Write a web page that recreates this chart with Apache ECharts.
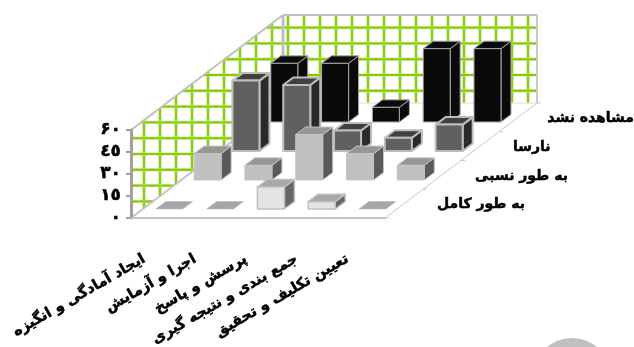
<!DOCTYPE html>
<html>
<head>
<meta charset="utf-8">
<style>html,body{margin:0;padding:0;background:#fff}#c{width:634px;height:347px}</style>
<script src="https://cdn.jsdelivr.net/npm/echarts@6/dist/echarts.min.js"></script>
</head>
<body>
<div id="c"></div>
<script>
// Categories along the front edge, rating levels along the depth of the floor
const categories = ['ایجاد آمادگی و انگیزه', 'اجرا و آزمایش', 'پرسش و پاسخ', 'جمع بندی و نتیجه گیری', 'تعیین تکلیف و تحقیق'];
const levels = ['به طور کامل', 'به طور نسبی', 'نارسا', 'مشاهده نشد'];
const tickLabels = { 0: '٠', 15: '١٥', 30: '٣٠', 45: '٤٥', 60: '۶٠' };

// Percentages per level
const complete = [0, 0, 15, 5, 0];
const relative = [18, 10, 31, 18, 10];
const inadequate = [48, 45, 14, 9, 18];
const notObserved = [40, 40, 10, 50, 50];

// Oblique projection: how far the floor runs back from the front edge
const DEPTH_X = 152, DEPTH_Y = 115;
const ROW_STEP = 29, ROW_START = 9, BAR_W = 27, BAR_DX = 10, BAR_DY = 7.5;

const rowStyles = [
  { front: '#e4e4e4', side: '#666666', top: '#a8a8a8', edge: '#c0c0c0', lw: 1.5 },
  { front: '#c0c0c0', side: '#5a5a5a', top: '#969696', edge: '#c4c4c4', lw: 1 },
  { front: '#606060', side: '#2a2a2a', top: '#404040', edge: '#bdbdbd', lw: 2 },
  { front: '#0a0a0a', side: '#0a0a0a', top: '#0a0a0a', edge: '#a8a8a8', lw: 1 }
];

function poly(points, fill, edge, lw) {
  return { type: 'polygon', shape: { points }, style: { fill, stroke: edge, lineWidth: lw, lineJoin: 'round' } };
}
function seg(x1, y1, x2, y2, stroke, lineWidth) {
  return { type: 'line', shape: { x1, y1, x2, y2 }, style: { stroke, lineWidth } };
}

// Walls, trellis fill and floor edges
function renderShell(params) {
  const g = params.coordSys;
  const x0 = g.x, x1 = g.x + g.width, base = g.y + g.height, top = g.y;
  const bx0 = x0 + DEPTH_X, bx1 = x1 + DEPTH_X, bBase = base - DEPTH_Y, bTop = top - DEPTH_Y;
  const slope = DEPTH_Y / DEPTH_X;
  const kids = [];
  const green = (a, b, c, d) => {
    kids.push(seg(a, b, c, d, '#c4e58c', 3.2));
    kids.push(seg(a, b, c, d, '#86cc00', 1.9));
  };
  for (let x = x0 + 13; x < bx1 - 4; x += 16) {
    const yTop = x < bx0 ? top - (x - x0) * slope : bTop;
    const yBot = x < bx0 ? base - (x - x0) * slope : bBase;
    green(x, yTop, x, yBot);
  }
  for (let y = bTop + 12.6; y < base - 10; y += 15.8) {
    const left = y < top ? x0 + (top - y) / slope : x0;
    const right = y < bBase ? bx1 : x0 + (base - y) / slope;
    green(left, y, right, y);
  }
  kids.push(seg(bx0, bTop, bx1, bTop, '#c0c0c0', 2));
  kids.push(seg(bx1, bTop, bx1, bBase, '#c8c8c8', 2));
  kids.push(seg(x0, top, bx0, bTop, '#c0c0c0', 2));
  kids.push(seg(bx0, bTop, bx0, bBase, '#c0c0c0', 3));
  kids.push(seg(x0, base, bx0, bBase, '#c4c4c4', 2));
  kids.push(seg(bx0, bBase, bx1, bBase, '#dcdcdc', 1));
  kids.push(seg(x1, base, bx1, bBase, '#c8c8c8', 1));
  for (let r = 0; r <= levels.length; r++) {
    const px = x1 + DEPTH_X * r / levels.length, py = base - DEPTH_Y * r / levels.length;
    kids.push(seg(px, py, px + 4, py, '#c8c8c8', 1));
  }
  return { type: 'group', children: kids };
}

// One bar: front face sits on its row, side and top are sheared back
function renderBar(row) {
  return function (params, api) {
    const cat = api.value(0), val = api.value(1);
    const foot = api.coord([cat, 0]), head = api.coord([cat, val]);
    const dy = ROW_START + ROW_STEP * row;
    const cx = foot[0] + dy * DEPTH_X / DEPTH_Y + 1;
    const l = cx - BAR_W / 2, r = cx + BAR_W / 2;
    const b = foot[1] - dy, t = head[1] - dy;
    const s = rowStyles[row];
    if (val === 0) {
      return poly([[l, b], [r, b], [r + BAR_DX, b - BAR_DY], [l + BAR_DX, b - BAR_DY]], '#a6a6a6', '#b8b8b8', 0.5);
    }
    return {
      type: 'group',
      children: [
        poly([[r, b], [r + BAR_DX, b - BAR_DY], [r + BAR_DX, t - BAR_DY], [r, t]], s.side, s.edge, s.lw),
        poly([[l, t], [r, t], [r + BAR_DX, t - BAR_DY], [l + BAR_DX, t - BAR_DY]], s.top, s.edge, s.lw),
        poly([[l, b], [r, b], [r, t], [l, t]], s.front, s.edge, s.lw)
      ]
    };
  };
}

// Level names follow the right-hand floor edge, kept inside the canvas
const LEVEL_FONT = 'bold 14px "DejaVu Sans"';
const measure = document.createElement('canvas').getContext('2d');
function renderLevelName(params, api) {
  const g = params.coordSys;
  const r = api.value(0);
  measure.font = LEVEL_FONT;
  const w = measure.measureText(levels[r]).width;
  const px = Math.min(g.x + g.width + DEPTH_X * (r + 0.5) / levels.length + 33, api.getWidth() - w);
  const py = g.y + g.height - DEPTH_Y * (r + 0.5) / levels.length + 1;
  return {
    type: 'text',
    style: {
      x: px, y: py, text: levels[r], fill: '#000', align: 'left', verticalAlign: 'middle',
      font: LEVEL_FONT, stroke: '#000', lineWidth: 0.5
    }
  };
}

const rows = [complete, relative, inadequate, notObserved];
const barSeries = rows.map((vals, r) => ({
  type: 'custom',
  name: levels[r],
  coordinateSystem: 'cartesian2d',
  z: 10 - r,
  renderItem: renderBar(r),
  encode: { x: 0, y: 1 },
  data: vals.map((v, i) => [i, v]),
  clip: false
}));

const chart = echarts.init(document.getElementById('c'), null, { renderer: 'canvas' });
chart.setOption({
  animation: false,
  backgroundColor: '#fff',
  grid: { left: 131, width: 254, top: 130, height: 88, containLabel: false, outerBoundsMode: 'none' },
  xAxis: {
    type: 'category',
    data: categories,
    z: 12,
    axisLine: { lineStyle: { color: '#c4c4c4', width: 2 } },
    axisTick: { length: 5, lineStyle: { color: '#c4c4c4', width: 1.5 } },
    axisLabel: {
      interval: 0, rotate: 30, margin: 33, padding: [0, 14, 0, 0], color: '#000',
      fontWeight: 'bold', fontSize: 14.5, fontFamily: 'DejaVu Sans',
      textBorderColor: '#000', textBorderWidth: 0.5
    }
  },
  yAxis: {
    type: 'value', min: 0, max: 60, interval: 15,
    z: 12,
    splitLine: { show: false },
    axisLine: { show: true, lineStyle: { color: '#a0a0a0', width: 3 } },
    axisTick: { show: true, length: 5, lineStyle: { color: '#a0a0a0', width: 2 } },
    axisLabel: {
      margin: 10, color: '#000', fontWeight: 'bold', fontSize: 17, fontFamily: 'DejaVu Sans',
      textBorderColor: '#000', textBorderWidth: 0.5,
      formatter: v => tickLabels[v]
    }
  },
  graphic: [{ type: 'circle', shape: { cx: 572, cy: 377, r: 39 }, style: { fill: '#bfbfbf' } }],
  series: [
    { type: 'custom', coordinateSystem: 'cartesian2d', z: 1, renderItem: renderShell, data: [[0, 0]], clip: false, silent: true },
    ...barSeries,
    { type: 'custom', coordinateSystem: 'cartesian2d', z: 11, renderItem: renderLevelName, encode: { x: 0 }, data: levels.map((_, i) => [i, 0]), clip: false, silent: true }
  ]
});
</script>
</body>
</html>
